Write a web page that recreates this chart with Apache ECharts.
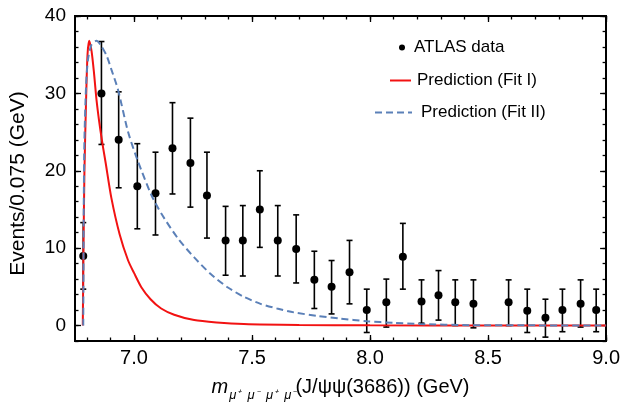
<!DOCTYPE html>
<html>
<head>
<meta charset="utf-8">
<title>ATLAS di-charmonium spectrum</title>
<script src="https://cdn.jsdelivr.net/npm/echarts@6/dist/echarts.min.js"></script>
<style>
  html, body { margin: 0; padding: 0; background: #fff; }
  #main { width: 623px; height: 407px; }
</style>
</head>
<body>
<div id="main"></div>
<script>
// ATLAS data points (bin centres, counts, error bar ends)
var massX = [6.785, 6.862, 6.935, 7.014, 7.091, 7.163, 7.239, 7.309, 7.388, 7.461, 7.533, 7.609, 7.687, 7.764, 7.837,
	7.913, 7.986, 8.069, 8.139, 8.218, 8.290, 8.361, 8.438, 8.587, 8.666, 8.743, 8.815, 8.892, 8.958];
var events = [9.0, 30.0, 24.0, 18.0, 17.1, 22.9, 21.0, 16.8, 11.0, 11.0, 15.0, 11.0, 9.9, 5.9, 5.0,
	6.9, 2.0, 3.0, 8.9, 3.1, 3.9, 3.0, 2.8, 3.0, 1.9, 1.0, 2.0, 2.8, 2.0];
var errLow = [4.7, 23.4, 17.8, 12.5, 11.7, 17.0, 15.3, 11.3, 6.5, 6.4, 10.1, 6.4, 5.5, 2.2, 1.5,
	2.8, -0.9, -0.2, 4.7, 0.3, 0.7, 0.0, -0.3, 0.0, -0.9, -1.5, -0.8, -0.2, -0.8];
var errHigh = [13.3, 36.7, 30.2, 23.5, 22.4, 28.8, 26.8, 22.4, 15.4, 15.5, 20.0, 15.5, 14.3, 9.6, 8.4,
	11.0, 4.7, 6.0, 13.2, 5.9, 7.1, 5.9, 5.9, 5.9, 4.7, 3.4, 4.7, 5.9, 4.7];

// Fit I curve
var fit1X = [6.783, 6.786, 6.790, 6.797, 6.803, 6.810, 6.820, 6.830, 6.841, 6.855, 6.869, 6.880, 6.904, 6.939,
	6.975, 7.000, 7.031, 7.070, 7.115, 7.170, 7.255, 7.350, 7.465, 7.700, 8.000, 8.500, 9.000];
var fit1Y = [0, 10, 20, 29.2, 35.0, 36.8, 35.5, 32.8, 29.2, 25.8, 23.0, 21.0, 16.5, 11.8,
	8.4, 6.8, 4.95, 3.4, 2.2, 1.4, 0.7, 0.4, 0.2, 0.08, 0.03, 0.01, 0];

// Fit II curve
var fit2X = [6.785, 6.787, 6.790, 6.797, 6.805, 6.820, 6.841, 6.862, 6.885, 6.904, 6.932, 6.975, 7.017, 7.073,
	7.115, 7.185, 7.255, 7.325, 7.396, 7.466, 7.536, 7.606, 7.677, 7.775, 7.874, 7.986, 8.100, 8.211, 8.420, 8.700, 9.000];
var fit2Y = [0, 15, 24, 31, 34.4, 36.3, 36.8, 36.1, 34.8, 33.1, 30.5, 25.0, 21.2, 16.9,
	14.5, 11.3, 8.8, 6.65, 4.95, 3.7, 2.8, 2.2, 1.7, 1.25, 0.9, 0.55, 0.35, 0.2, 0.05, 0.02, 0.01];

// tick positions
var xMajor = [7.0, 7.5, 8.0, 8.5, 9.0];
var xMinor = [6.8, 6.9, 7.0, 7.1, 7.2, 7.3, 7.4, 7.5, 7.6, 7.7, 7.8, 7.9, 8.0, 8.1, 8.2, 8.3, 8.4, 8.5, 8.6, 8.7, 8.8, 8.9, 9.0];
var yMajor = [0, 10, 20, 30, 40];
var yMinor = [-2, 0, 2, 4, 6, 8, 10, 12, 14, 16, 18, 20, 22, 24, 26, 28, 30, 32, 34, 36, 38, 40];

var font = 'Liberation Sans, Arial, sans-serif';
var red = '#f21212';
var blue = '#5b80b8';

function pair(xs, ys) {
	var out = [];
	for (var i = 0; i < xs.length; i++) out.push([xs[i], ys[i]]);
	return out;
}

function xAxisDef(pos, ticks, len, labels, name) {
	var a = {
		type: 'value', position: pos, min: 6.75, max: 9.0,
		axisLine: { show: true, onZero: false, lineStyle: { color: '#000', width: 2 } },
		axisTick: { show: true, inside: true, length: len, customValues: ticks, lineStyle: { color: '#000', width: 1.3 } },
		axisLabel: { show: labels, customValues: xMajor, margin: 7, color: '#000', fontSize: 20, fontFamily: font,
			formatter: function (v) { return v.toFixed(1); } },
		splitLine: { show: false }
	};
	if (name) {
		a.name = '{m|m}{s|μ⁺  μ⁻  μ⁺  μ⁻}{t|(J/ψψ(3686)) (GeV)}';
		a.nameLocation = 'middle';
		a.nameGap = 41;
		a.nameTextStyle = {
			rich: {
				m: { fontSize: 20, fontStyle: 'italic', fontFamily: font, color: '#000', lineHeight: 20, padding: [0, 1, 5, 0], verticalAlign: 'bottom' },
				s: { fontSize: 13, fontStyle: 'italic', fontFamily: font, color: '#000', lineHeight: 14, verticalAlign: 'bottom' },
				t: { fontSize: 20, fontFamily: font, color: '#000', lineHeight: 20, padding: [0, 0, 5, 0], verticalAlign: 'bottom' }
			}
		};
	}
	return a;
}

function yAxisDef(pos, ticks, len, labels, name) {
	var a = {
		type: 'value', position: pos, min: -2, max: 40,
		axisLine: { show: true, onZero: false, lineStyle: { color: '#000', width: 2 } },
		axisTick: { show: true, inside: true, length: len, customValues: ticks, lineStyle: { color: '#000', width: 1.3 } },
		axisLabel: { show: labels, customValues: yMajor, margin: 9, color: '#000', fontSize: 19, fontFamily: font },
		splitLine: { show: false }
	};
	if (name) {
		a.name = 'Events/0.075 (GeV)';
		a.nameLocation = 'middle';
		a.nameGap = 46;
		a.nameTextStyle = { fontSize: 21, fontFamily: font, color: '#000', padding: [0, 10, 0, 0] };
	}
	return a;
}

var myChart = echarts.init(document.getElementById('main'));

var legendText = { color: '#000', fontSize: 17, fontFamily: font };

var option = {
	backgroundColor: '#fff',
	animation: false,
	grid: { left: 74, right: 16, top: 16, bottom: 63 },
	xAxis: [
		xAxisDef('bottom', xMajor, 6, true, true),
		xAxisDef('bottom', xMinor, 3.5, false, false),
		xAxisDef('top', xMajor, 6, false, false),
		xAxisDef('top', xMinor, 3.5, false, false)
	],
	yAxis: [
		yAxisDef('left', yMajor, 6, true, true),
		yAxisDef('left', yMinor, 3.5, false, false),
		yAxisDef('right', yMajor, 6, false, false),
		yAxisDef('right', yMinor, 3.5, false, false)
	],
	legend: [
		{ data: ['ATLAS data'], left: 399, top: 39, padding: 0, icon: 'circle', itemWidth: 6, itemHeight: 6,
			textStyle: Object.assign({ padding: [0, 0, 0, 4] }, legendText) },
		{ data: ['Prediction (Fit I)'], left: 390, top: 72, padding: 0, itemWidth: 21, itemHeight: 2,
			icon: 'path://M0,0H21V2H0Z', symbolKeepAspect: false,
			textStyle: Object.assign({ padding: [0, 0, 0, 1] }, legendText) },
		{ data: ['Prediction (Fit II)'], left: 375, top: 104, padding: 0, itemWidth: 37, itemHeight: 2,
			icon: 'path://M0,0H7V2H0Z M11,0H18V2H11Z M22,0H29V2H22Z M33,0H37V2H33Z', symbolKeepAspect: false,
			textStyle: Object.assign({ padding: [0, 0, 0, 4] }, legendText) }
	],
	series: [
		{
			name: 'errors',
			type: 'custom',
			data: massX.map(function (x, i) { return [x, errLow[i], errHigh[i]]; }),
			renderItem: function (params, api) {
				var top = api.coord([api.value(0), api.value(2)]);
				var bot = api.coord([api.value(0), api.value(1)]);
				var w = 3;
				var st = { stroke: '#000', lineWidth: 1.6 };
				return {
					type: 'group',
					children: [
						{ type: 'line', shape: { x1: top[0], y1: top[1], x2: bot[0], y2: bot[1] }, style: st },
						{ type: 'line', shape: { x1: top[0] - w, y1: top[1], x2: top[0] + w, y2: top[1] }, style: st },
						{ type: 'line', shape: { x1: bot[0] - w, y1: bot[1], x2: bot[0] + w, y2: bot[1] }, style: st }
					]
				};
			},
			z: 2
		},
		{
			name: 'ATLAS data',
			type: 'scatter',
			data: pair(massX, events),
			symbol: 'circle',
			symbolSize: 8,
			itemStyle: { color: '#000', opacity: 1 },
			z: 3
		},
		{
			name: 'Prediction (Fit I)',
			type: 'line',
			data: pair(fit1X, fit1Y),
			showSymbol: false,
			symbol: 'none',
			smooth: 0.25,
			lineStyle: { color: red, width: 2 },
			itemStyle: { color: red },
			z: 4
		},
		{
			name: 'Prediction (Fit II)',
			type: 'line',
			data: pair(fit2X, fit2Y),
			showSymbol: false,
			symbol: 'none',
			smooth: 0.25,
			lineStyle: { color: blue, width: 2, type: [7, 4] },
			itemStyle: { color: blue },
			z: 4
		}
	]
};

myChart.setOption(option);
</script>
</body>
</html>
